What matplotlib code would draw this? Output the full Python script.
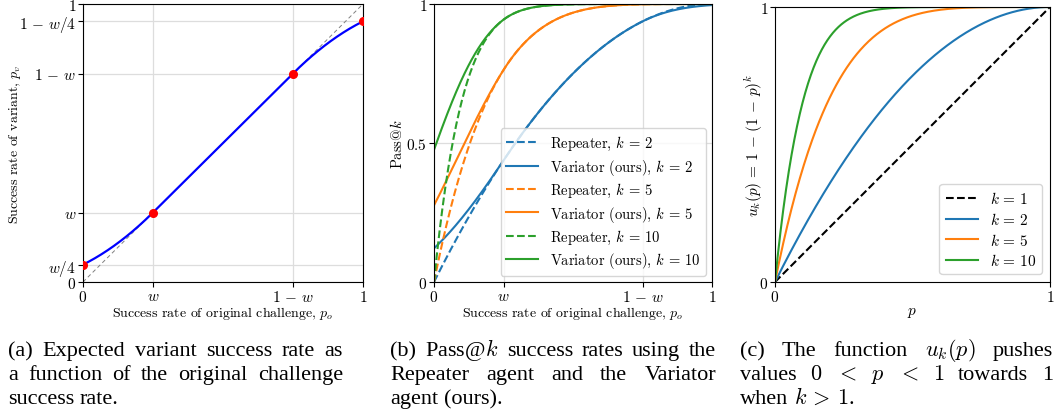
import numpy as np
import matplotlib
matplotlib.use("Agg")
import matplotlib.pyplot as plt

plt.rcParams['font.family'] = ['cmr10', 'DejaVu Serif']
plt.rcParams['mathtext.fontset'] = 'cm'
plt.rcParams['axes.formatter.use_mathtext'] = True
plt.rcParams['xtick.major.pad'] = 1.5
plt.rcParams['ytick.major.pad'] = 1.5

# variant gap w and the anchor points of the expected variant success rate
w = 0.25
anchor_po = [0, w, 1 - w, 1]
anchor_pv = [w / 4, w, 1 - w, 1 - w / 4]
ticks_pos = [0, w, 1 - w, 1]
ticks_lab = [r'$0$', r'$w$', r'$1\,-\,w$', r'$1$']
yticks_pos = [0, w / 4, w, 1 - w, 1 - w / 4, 1]
yticks_lab = [r'$0$', r'$w/4$', r'$w$', r'$1\,-\,w$', r'$1\,-\,w/4$', r'$1$']
ks_b = [2, 5, 10]
ks_c = [1, 2, 5, 10]
colors = {2: 'tab:blue', 5: 'tab:orange', 10: 'tab:green'}


def variant_rate(p):
    # quadratic ends joining the identity smoothly at w and 1-w
    lo = w / 4 + p / 2 + p ** 2 / (4 * w)
    q = 1 - p
    hi = 1 - (w / 4 + q / 2 + q ** 2 / (4 * w))
    return np.where(p < w, lo, np.where(p > 1 - w, hi, p))


p = np.linspace(0, 1, 400)

fig = plt.figure(figsize=(10.56, 4.14), dpi=100)
W, H = 1056, 414


def box(l, t, r, b):
    return [l / W, 1 - b / H, (r - l) / W, (b - t) / H]


# (a)
ax1 = fig.add_axes(box(83, 5, 363, 283))
ax1.plot([0, 1], [0, 1], '--', color='gray', lw=0.7, dashes=(4, 3))
ax1.plot(p, variant_rate(p), color='blue', lw=1.6)
ax1.plot(anchor_po, anchor_pv, 'o', color='red', ms=5.5, zorder=5)
ax1.set_xlim(0, 1)
ax1.set_ylim(0, 1)
ax1.set_xticks(ticks_pos, ticks_lab, fontsize=11)
ax1.set_yticks(yticks_pos, yticks_lab, fontsize=11)
ax1.grid(color='#dddddd', lw=0.9)
ax1.set_axisbelow(True)
ax1.set_xlabel(r'Success rate of original challenge, $p_o$', fontsize=10)
ax1.xaxis.set_label_coords(0.5, -0.08)
ax1.set_ylabel(r'Success rate of variant, $p_v$', fontsize=10)
ax1.yaxis.set_label_coords(-0.214, 0.5)

# (b)
ax2 = fig.add_axes(box(434, 5, 712, 283))
for k in ks_b:
    ax2.plot(p, 1 - (1 - p) ** k, '--', color=colors[k], lw=1.5,
             label=rf'Repeater, $k\,=\,{k}$')
    ax2.plot(p, 1 - (1 - variant_rate(p)) ** k, '-', color=colors[k], lw=1.5,
             label=rf'Variator (ours), $k\,=\,{k}$')
ax2.set_xlim(0, 1)
ax2.set_ylim(0, 1)
ax2.set_xticks(ticks_pos, ticks_lab, fontsize=11)
ax2.set_yticks([0, 0.5, 1], [r'$0$', r'$0.5$', r'$1$'], fontsize=11)
ax2.grid(color='#dddddd', lw=0.9)
ax2.set_axisbelow(True)
ax2.set_xlabel(r'Success rate of original challenge, $p_o$', fontsize=10)
ax2.xaxis.set_label_coords(0.5, -0.08)
ax2.set_ylabel(r'Pass@$k$', fontsize=10.5)
ax2.yaxis.set_label_coords(-0.105, 0.5)
ax2.legend(loc='lower right', fontsize=10.5, handlelength=2.2, labelspacing=0.3,
           borderaxespad=0.4)

# (c)
ax3 = fig.add_axes(box(775, 8, 1050, 283))
ax3.plot(p, p, '--', color='black', lw=1.5, label=r'$k\,=\,1$')
for k in ks_c[1:]:
    ax3.plot(p, 1 - (1 - p) ** k, color=colors[k], lw=1.5, label=rf'$k\,=\,{k}$')
ax3.set_xlim(0, 1)
ax3.set_ylim(0, 1)
ax3.set_xticks([0, 1], [r'$0$', r'$1$'], fontsize=11)
ax3.set_yticks([0, 1], [r'$0$', r'$1$'], fontsize=11)
ax3.set_xlabel(r'$p$', fontsize=11)
ax3.xaxis.set_label_coords(0.5, -0.085)
ax3.set_ylabel(r'$u_k(p)\,=\,1\,-\,(1\,-\,p)^k$', fontsize=11)
ax3.yaxis.set_label_coords(-0.035, 0.5)
ax3.legend(loc='lower right', fontsize=11, handlelength=2.1, labelspacing=0.3)

# captions, justified like the paper
captions = [
    (8, 343, [["(a)", "Expected", "variant", "success", "rate", "as"],
              ["a", "function", "of", "the", "original", "challenge"],
              ["success", "rate."]]),
    (390, 716, [["(b)", r"Pass@$k$", "success", "rates", "using", "the"],
                ["Repeater", "agent", "and", "the", "Variator"],
                ["agent", "(ours)."]]),
    (740, 1053, [["(c)", "The", "function", r"$u_k(p)$", "pushes"],
                 ["values", r"$0$", r"$<$", r"$p$", r"$<$", r"$1$", "towards", "1"],
                 ["when", r"$k\,>\,1$."]]),
]
baselines = [356, 380, 404]
fig.canvas.draw()
renderer = fig.canvas.get_renderer()
for x0, x1, lines in captions:
    for i, words in enumerate(lines):
        y = 1 - baselines[i] / H
        texts = [fig.text(0, y, wd, fontsize=16, family='Liberation Serif', va='baseline')
                 for wd in words]
        widths = [t.get_window_extent(renderer).width for t in texts]
        last = i == len(lines) - 1
        gap = 5.5 if last else (x1 - x0 - sum(widths)) / (len(words) - 1)
        x = x0
        for t, wdt in zip(texts, widths):
            t.set_x(x / W)
            x += wdt + gap

fig.savefig('out.png', dpi=100)
